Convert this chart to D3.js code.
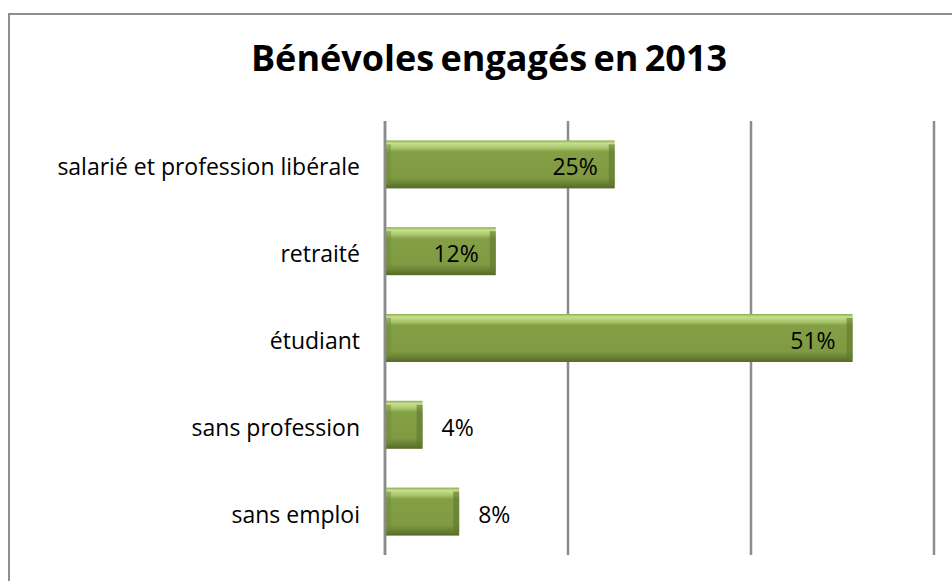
<!DOCTYPE html>
<html>
<head>
<meta charset="utf-8">
<script src="https://cdn.jsdelivr.net/npm/d3@7"></script>
<style>
  body { margin: 0; background: #fff; }
  text { font-family: "Open Sans", sans-serif; fill: #000; }
</style>
</head>
<body>
<div id="chart"></div>
<script>
// chart data
var categories = ["salarié et profession libérale", "retraité", "étudiant", "sans profession", "sans emploi"];
var values = [0.25, 0.12, 0.51, 0.04, 0.08];
var labels = ["25%", "12%", "51%", "4%", "8%"];
var gridTicks = [0, 0.2, 0.4, 0.6];
var title = "Bénévoles engagés en 2013";

var width = 952, height = 581;

var svg = d3.select("#chart")
  .append("svg")
  .attr("width", width)
  .attr("height", height);

// frame
svg.append("rect")
  .attr("x", 9).attr("y", 14)
  .attr("width", 960).attr("height", 600)
  .attr("fill", "#fff")
  .attr("stroke", "#8e8e8e")
  .attr("stroke-width", 2);

// title
svg.append("text")
  .attr("x", 489).attr("y", 71)
  .attr("text-anchor", "middle")
  .style("font-size", "36px")
  .style("font-weight", "bold")
  .style("word-spacing", "-3px")
  .text(title);

var x = d3.scaleLinear().domain([0, 0.6]).range([385, 934]);
var y = d3.scaleBand().domain(categories).range([121, 555]).paddingInner(0.447).paddingOuter(0.2235);

// gradients for the bevel look
var defs = svg.append("defs");
var g = defs.append("linearGradient").attr("id", "bevel").attr("x1", 0).attr("y1", 0).attr("x2", 0).attr("y2", 1);
g.append("stop").attr("offset", "0%").attr("stop-color", "#8fab4f");
g.append("stop").attr("offset", "6%").attr("stop-color", "#c6e08e");
g.append("stop").attr("offset", "16%").attr("stop-color", "#a9c56c");
g.append("stop").attr("offset", "24%").attr("stop-color", "#84a046");
g.append("stop").attr("offset", "78%").attr("stop-color", "#7f9a42");
g.append("stop").attr("offset", "86%").attr("stop-color", "#6f8a38");
g.append("stop").attr("offset", "100%").attr("stop-color", "#56692a");

// gridlines
svg.selectAll("line.grid")
  .data(gridTicks)
  .enter()
  .append("line")
  .attr("class", "grid")
  .attr("x1", d => x(d)).attr("x2", d => x(d))
  .attr("y1", 121).attr("y2", 555)
  .attr("stroke", "#8c8c8c")
  .attr("stroke-width", 2.5);

// bars
var bars = svg.selectAll("g.bar")
  .data(values)
  .enter()
  .append("g")
  .attr("class", "bar");

bars.append("rect")
  .attr("x", x(0) + 1)
  .attr("y", (d, i) => y(categories[i]))
  .attr("width", d => x(d) - x(0))
  .attr("height", y.bandwidth())
  .attr("fill", "url(#bevel)");

// side bevels
bars.append("rect")
  .attr("x", x(0) + 1)
  .attr("y", (d, i) => y(categories[i]) + 4)
  .attr("width", 5)
  .attr("height", y.bandwidth() - 9)
  .attr("fill", "#6e8a35")
  .attr("opacity", 0.5);

bars.append("rect")
  .attr("x", d => x(d) - 5)
  .attr("y", (d, i) => y(categories[i]) + 4)
  .attr("width", 6)
  .attr("height", y.bandwidth() - 8)
  .attr("fill", "#5f762f")
  .attr("opacity", 0.6);

// value labels
bars.append("text")
  .attr("x", d => d > 0.1 ? x(d) - 16 : x(d) + 20)
  .attr("y", (d, i) => y(categories[i]) + y.bandwidth() / 2 + 3)
  .attr("dy", "0.35em")
  .attr("text-anchor", d => d > 0.1 ? "end" : "start")
  .style("font-size", "23px")
  .text((d, i) => labels[i]);

// category labels
svg.selectAll("text.cat")
  .data(categories)
  .enter()
  .append("text")
  .attr("class", "cat")
  .attr("x", 360)
  .attr("y", d => y(d) + y.bandwidth() / 2 + 3)
  .attr("dy", "0.35em")
  .attr("text-anchor", "end")
  .style("font-size", "23px")
  .text(d => d);

// zero axis line on top
svg.append("line")
  .attr("x1", x(0)).attr("x2", x(0))
  .attr("y1", 121).attr("y2", 555)
  .attr("stroke", "#8c8c8c")
  .attr("stroke-width", 2.5);
</script>
</body>
</html>
